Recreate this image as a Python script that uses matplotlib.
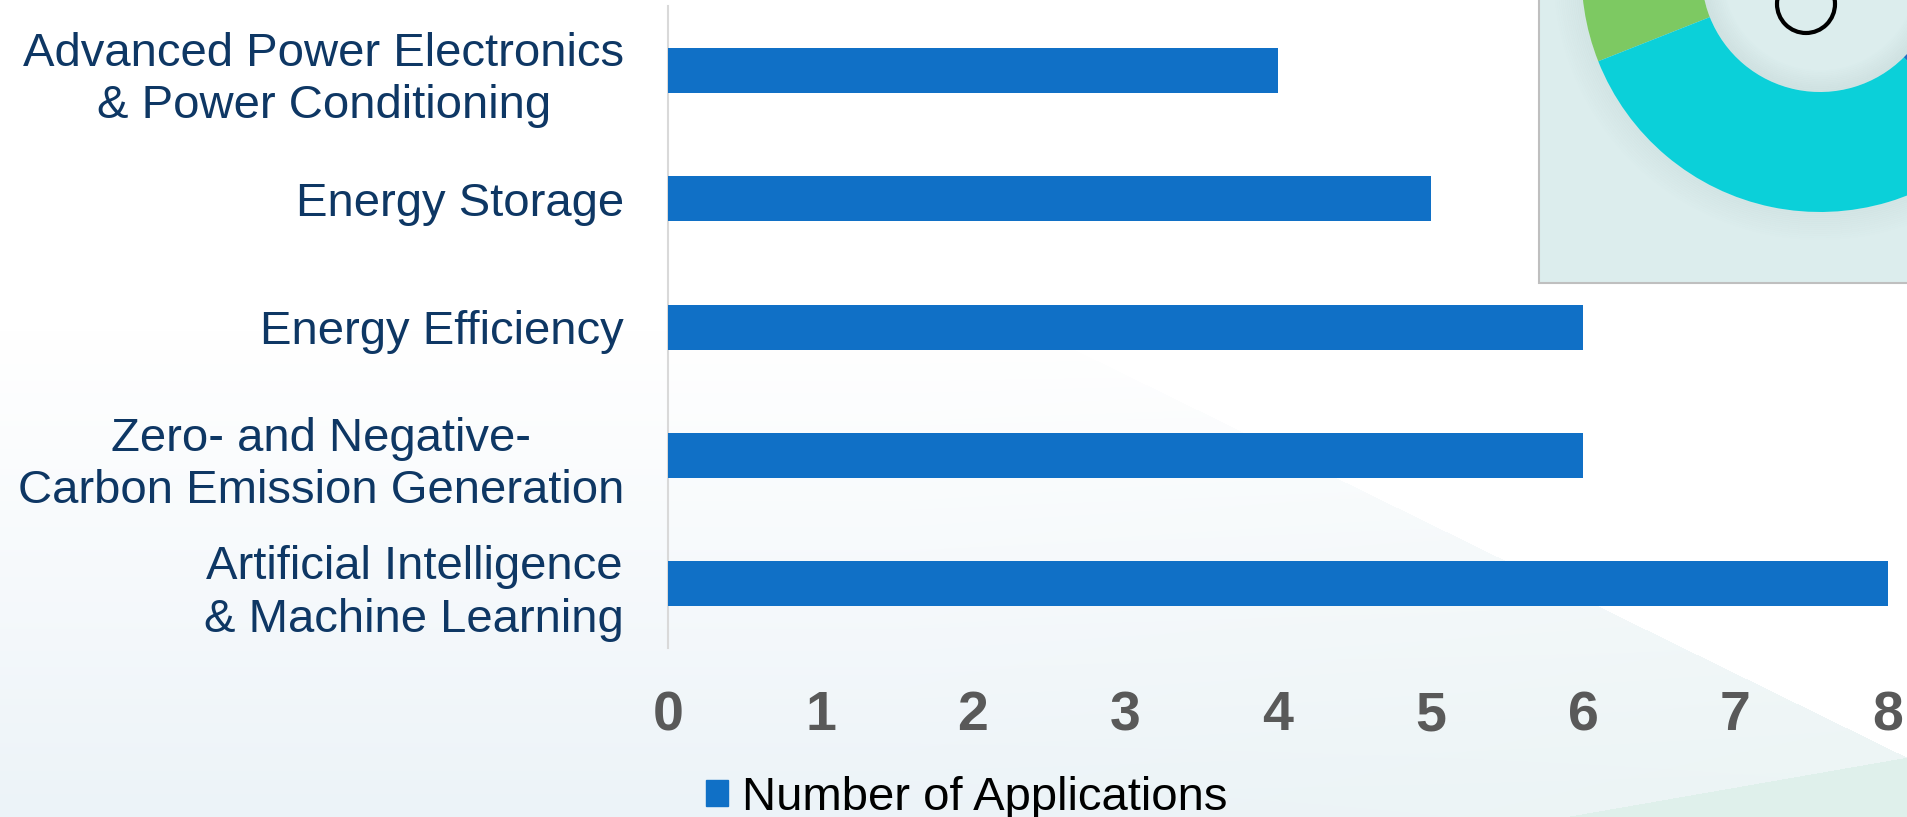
import numpy as np
import matplotlib
matplotlib.use("Agg")
import matplotlib.pyplot as plt
from matplotlib.patches import Wedge, Rectangle, Circle

# ---- data ----
categories = [
    "Artificial Intelligence\n& Machine Learning",
    "Zero- and Negative-\nCarbon Emission Generation",
    "Energy Efficiency",
    "Energy Storage",
    "Advanced Power Electronics\n& Power Conditioning",
]
applications = [8, 6, 6, 5, 4]
x_ticks = [0, 1, 2, 3, 4, 5, 6, 7, 8]
series_name = "Number of Applications"

# decorative donut (partially visible chart in the corner), angles in degrees
donut_angles = [150, 201.6, 315, 400]
donut_colors = ["#7DC962", "#0BD0D9", "#1F6FC5"]

W, H = 1908, 817
plt.rcParams['font.family'] = ['Liberation Sans', 'DejaVu Sans']
fig = plt.figure(figsize=(W / 100, H / 100), dpi=100)

# ---- background ----
bg = fig.add_axes([0, 0, 1, 1], zorder=-10)
bg.set_xlim(0, W); bg.set_ylim(H, 0); bg.axis('off')
yy, xx = np.mgrid[0:H, 0:W].astype(float)
t = np.clip((yy - 330) / (H - 330), 0, 1) ** 1.1
base = np.array([1.0, 1.0, 1.0])
low = np.array([0xEC, 0xF3, 0xF8]) / 255
img = base[None, None, :] * (1 - t[..., None]) + low[None, None, :] * t[..., None]
# greenish tint towards right
g = np.clip((xx - 900) / 1000, 0, 1) * t
green_tint = np.array([0xEC, 0xF6, 0xF2]) / 255
img = img * (1 - g[..., None] * 0.6) + green_tint[None, None, :] * (g[..., None] * 0.6)
# white region right of diagonal
above = yy < 0.49 * (xx - 1347) + 483
img[above] = 1.0
# green triangle bottom right
tri = yy > 817 - (xx - 1564) * (60 / 344)
img[tri] = np.array([0xDF, 0xF0, 0xEB]) / 255
bg.imshow(img, extent=(0, W, H, 0), aspect='auto', interpolation='bilinear')

# ---- main chart ----
ax = fig.add_axes([668 / W, 1 - 648 / H, 1220 / W, 641.6 / H], zorder=0)
ax.patch.set_alpha(0)
ypos = np.arange(len(categories))
ax.barh(ypos, applications, height=0.35, color="#1070C6", zorder=3)
ax.set_xlim(0, 8)
ax.set_ylim(-0.5, len(categories) - 0.5)
ax.set_yticks(ypos)
ax.set_yticklabels(categories, fontsize=34, color="#0E3764", linespacing=1.26)
for lab in ax.get_yticklabels():
    lab.set_multialignment('center')
ax.set_xticks(x_ticks)
ax.set_xticklabels([str(v) for v in x_ticks], fontsize=40, fontweight='bold', color="#595959")
ax.tick_params(axis='y', length=0, pad=31.5)
ax.tick_params(axis='x', length=0, pad=30.5)
for s in ['top', 'right', 'bottom']:
    ax.spines[s].set_visible(False)
ax.spines['left'].set_color("#D9D9D9")
ax.spines['left'].set_linewidth(1.5)

fig.legend(handles=[Rectangle((0, 0), 1, 1, color="#1070C6")], labels=[series_name],
           loc='center left', bbox_to_anchor=(706 / W, 1 - 798 / H),
           frameon=False, fontsize=34, borderpad=0, borderaxespad=0,
           handlelength=0.47, handleheight=0.47, handletextpad=0.3,
           labelcolor="black")

# ---- decorative inset (partial donut chart) ----
ov = fig.add_axes([0, 0, 1, 1], zorder=5)
ov.set_xlim(0, W); ov.set_ylim(0, H); ov.axis('off')
ov.patch.set_alpha(0)
box = Rectangle((1539, H - 283), 500, 400, facecolor="#DCEDED", edgecolor="#BFBFBF", lw=1.5)
ov.add_patch(box)
cx, cy = 1820, H + 26.5
R, r = 238.5, 118.5
# outer soft shadow
for i in range(14):
    rr = R + 2 + i * 2.0
    ov.add_patch(Wedge((cx, cy), rr, 0, 360, width=2.2, facecolor="#7F9A9A",
                       alpha=0.09 * (1 - i / 14), lw=0, clip_path=box))
for a1, a2, c in zip(donut_angles[:-1], donut_angles[1:], donut_colors):
    w = Wedge((cx, cy), R, a1, a2, width=R - r, facecolor=c, edgecolor='none', lw=0)
    ov.add_patch(w)
    w.set_clip_path(box)
# inner shadow of the hole
for i in range(12):
    rr = r - i * 1.8
    ov.add_patch(Wedge((cx, cy), rr, 0, 360, width=1.9, facecolor="#7F9A9A",
                       alpha=0.13 * (1 - i / 12), lw=0))
ov.add_patch(Circle((1806, H - 4), 29, fill=False, edgecolor="black", lw=3))

fig.savefig("out.png", dpi=100)
